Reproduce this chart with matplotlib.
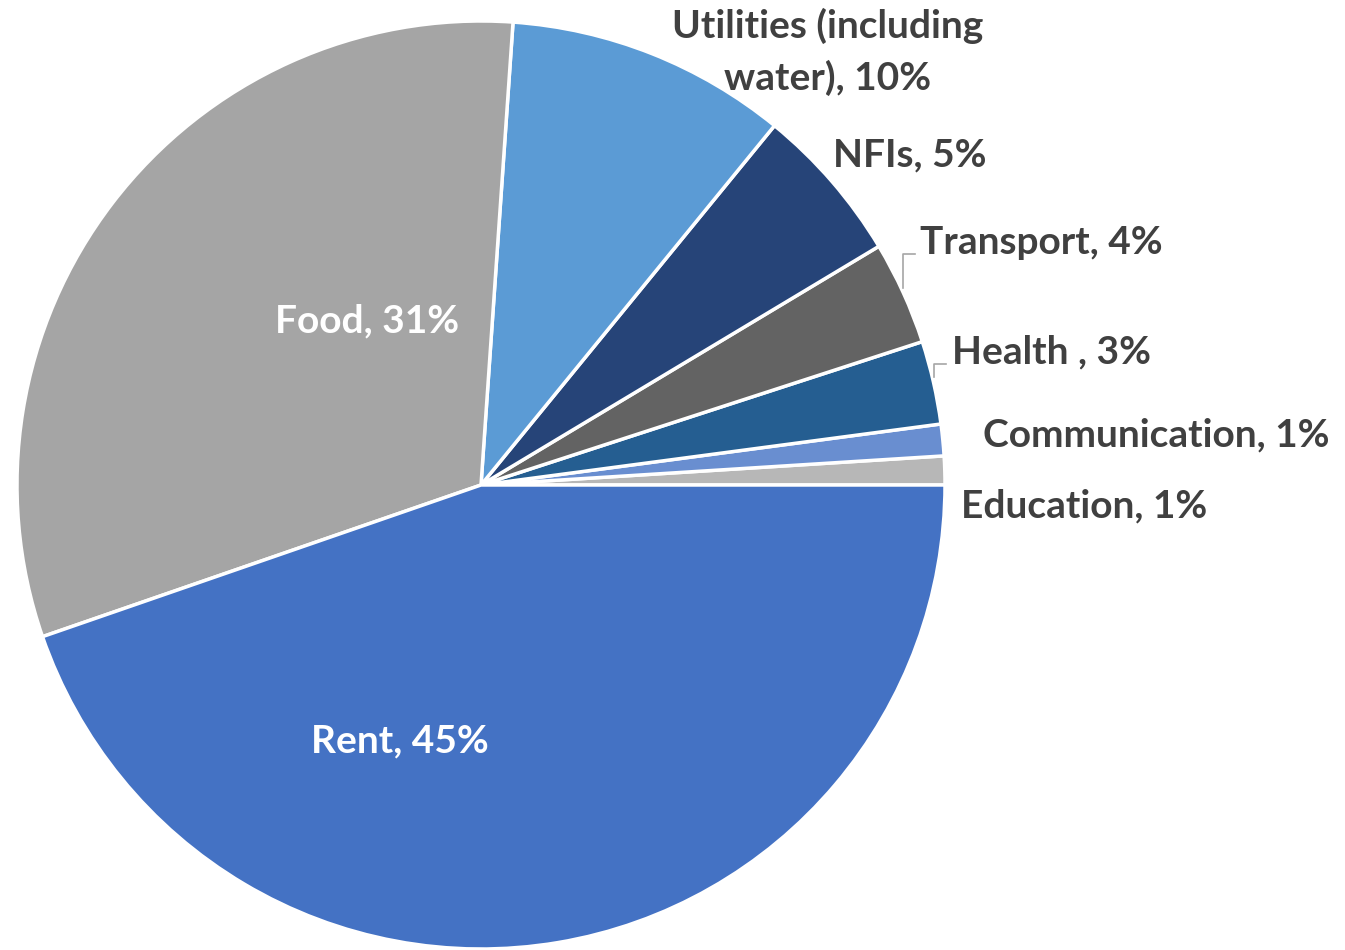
import matplotlib.pyplot as plt

labels = ["Education, 1%", "Communication, 1%", "Health , 3%", "Transport, 4%",
          "NFIs, 5%", "Utilities (including\nwater), 10%", "Food, 31%", "Rent, 45%"]
values = [1.0, 1.1, 2.9, 3.6, 5.5, 9.8, 31.4, 44.7]
colors = ["#B7B7B7", "#698ED0", "#255E91", "#636363",
          "#264478", "#5B9BD5", "#A5A5A5", "#4472C4"]

W, H = 1345, 950
fig = plt.figure(figsize=(W / 100, H / 100), dpi=100)
ax = fig.add_axes([0, 0, 1, 1])

# pie drawn in pixel coords (y down), so flip the direction to keep it counter-clockwise on screen
ax.pie(values, colors=colors, startangle=0, counterclock=False,
       center=(481, 485), radius=464, frame=True,
       wedgeprops=dict(edgecolor="white", linewidth=2.5))
ax.set_xlim(0, W)
ax.set_ylim(H, 0)
ax.axis("off")

font = dict(family=["Lato", "DejaVu Sans"], fontweight="bold", fontsize=28)
dark = "#404040"

ax.text(367, 321, labels[6], color="white", ha="center", va="center", **font)
ax.text(400, 741, labels[7], color="white", ha="center", va="center", **font)
ax.text(828, 52, labels[5], color=dark, ha="center", va="center", linespacing=1.5, **font)
ax.text(910, 155, labels[4], color=dark, ha="center", va="center", **font)
ax.text(920, 242, labels[3], color=dark, ha="left", va="center", **font)
ax.text(952, 352, labels[2], color=dark, ha="left", va="center", **font)
ax.text(983, 435, labels[1], color=dark, ha="left", va="center", **font)
ax.text(961, 506, labels[0], color=dark, ha="left", va="center", **font)

# leader lines
ax.plot([903, 903, 915], [288, 254, 254], color="#A6A6A6", lw=1.2)
ax.plot([934, 934, 946], [377, 364, 364], color="#A6A6A6", lw=1.2)

fig.savefig("out.png", dpi=100)
